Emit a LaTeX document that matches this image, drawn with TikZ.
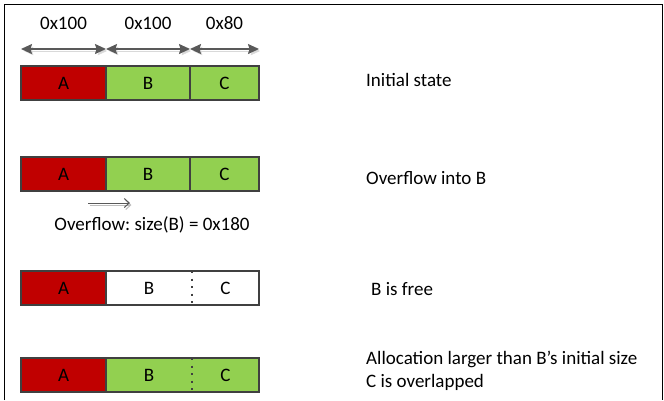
\documentclass[tikz,border=0pt]{standalone}
\usepackage{fontspec}
\setmainfont{Carlito}
\usetikzlibrary{arrows.meta,positioning,calc}
\definecolor{heapRed}{HTML}{C00000}
\definecolor{heapGreen}{HTML}{92D050}
\definecolor{heapEdge}{HTML}{404040}
\definecolor{heapArrow}{HTML}{595959}
\frenchspacing

\begin{document}
\begin{tikzpicture}[
    x=1bp, y=-1bp,
    font=\fontsize{19bp}{23bp}\selectfont,
    chunk/.style={draw=heapEdge, line width=2bp, minimum height=34bp, inner sep=0pt, outer sep=0pt},
    bare/.style={minimum height=34bp, inner sep=0pt, outer sep=0pt},
    edge/.style={draw=heapEdge, line width=2bp},
    sep/.style={draw=heapEdge, line width=2bp, dash pattern=on 2bp off 5.5bp},
    dim/.style={{Stealth[length=11bp,width=10bp,inset=1.5bp]}-{Stealth[length=11bp,width=10bp,inset=1.5bp]}, heapArrow, line width=1.3bp,
        preaction={draw=black!15, transform canvas={shift={(2bp,-2bp)}}}},
    size/.style={midway, yshift=26bp, text=black},
    note/.style={anchor=west, inner sep=0pt, align=left},
]

\useasboundingbox (0,0) rectangle (664,400);

% outer frame, open at the bottom
\draw[line width=1.5bp] (4.5,400) -- (4.5,4.5) -- (662.5,4.5) -- (662.5,400);

% ===== ROW 1: Initial state =====
\node[chunk, fill=heapRed, minimum width=85bp] (a1) at (63.5,83) {A};
\node[chunk, fill=heapGreen, minimum width=84bp, right=0pt of a1] (b1) {B};
\node[chunk, fill=heapGreen, minimum width=69bp, right=0pt of b1] (c1) {C};

% sizes
\draw[dim] ([yshift=17bp]a1.north west) -- ([yshift=17bp]a1.north east)
    node[size] (sa) {0x100};
\draw[dim] ([yshift=17bp]b1.north west) -- ([yshift=17bp]b1.north east)
    node[size] (sb) {0x100};
\draw[dim] ([yshift=17bp]c1.north west) -- ([yshift=17bp]c1.north east)
    node[size] (sc) {0x80};

\node[note] (n1) at (366,80) {Initial state};

% ===== ROW 2: Overflow into B =====
\node[chunk, fill=heapRed, minimum width=85bp] (a2) at (63.5,174) {A};
\node[chunk, fill=heapGreen, minimum width=84bp, right=0pt of a2] (b2) {B};
\node[chunk, fill=heapGreen, minimum width=69bp, right=0pt of b2] (c2) {C};

\coordinate (ovs) at ([xshift=-18bp, yshift=-12bp]a2.south east);
\coordinate (ove) at ([xshift=24bp, yshift=-12bp]a2.south east);
\draw[-{Straight Barb[length=5bp,width=9bp]}, heapArrow!40, line width=1bp] ([shift={(1.5,2)}]ovs) -- ([shift={(1.5,2)}]ove);
\draw[-{Straight Barb[length=5bp,width=9bp]}, heapArrow, line width=1bp] (ovs) -- (ove);
\node (ovtext) at (152,225) {Overflow: size(B) = 0x180};

\node[note] (n2) at (366,178) {Overflow into B};

% ===== ROW 3: B is free =====
\node[chunk, fill=heapRed, minimum width=85bp] (a3) at (63.5,288) {A};
\node[bare, fill=white, minimum width=86bp, right=0pt of a3] (b3) {B};
\node[bare, fill=white, minimum width=67bp, right=0pt of b3] (c3) {C};
\draw[edge] (b3.north west) rectangle (c3.south east);
\draw[sep] (b3.north east) -- (b3.south east);

\node[note] (n3) at (371,289) {B is free};

% ===== ROW 4: C is overlapped =====
\node[chunk, fill=heapRed, minimum width=85bp] (a4) at (63.5,375) {A};
\node[bare, fill=heapGreen, minimum width=86bp, right=0pt of a4] (b4) {B};
\node[bare, fill=heapGreen, minimum width=67bp, right=0pt of b4] (c4) {C};
\draw[edge] (b4.north west) rectangle (c4.south east);
\draw[sep] (b4.north east) -- (b4.south east);

\node[note] (n4) at (366,371) {Allocation larger than B’s initial size\\C is overlapped};

\end{tikzpicture}
\end{document}
